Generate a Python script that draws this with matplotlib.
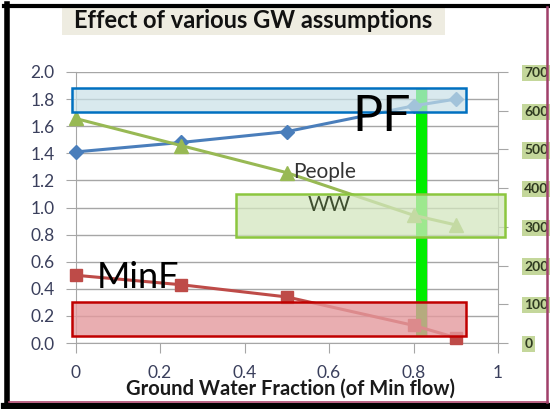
import matplotlib
matplotlib.use('Agg')
import matplotlib.pyplot as plt
from matplotlib.patches import Rectangle
from matplotlib.lines import Line2D

# Data
gw_fraction = [0, 0.25, 0.5, 0.8, 0.9]
pf_values = [1.41, 1.48, 1.56, 1.75, 1.80]
minf_values = [0.50, 0.43, 0.34, 0.13, 0.04]
people_values = [580, 510, 440, 330, 305]

left_ticks = [0.0, 0.2, 0.4, 0.6, 0.8, 1.0, 1.2, 1.4, 1.6, 1.8, 2.0]
right_ticks = [0, 100, 200, 300, 400, 500, 600, 700]
x_ticks = [0, 0.2, 0.4, 0.6, 0.8, 1]
x_tick_labels = ['0', '0.2', '0.4', '0.6', '0.8', '1']

plt.rcParams['font.family'] = ['Lato', 'DejaVu Sans']

W, H = 550, 409
fig = plt.figure(figsize=(5.5, 4.09), dpi=100)
fig.patch.set_facecolor('white')

ax = fig.add_axes([75.5 / W, 1 - 343 / H, 422.5 / W, 271 / H])
ax2 = ax.twinx()

tick_col = '#3a3f5c'
grid_col = '#a6a6a6'

# Left axis
ax.set_xlim(0, 1)
ax.set_ylim(0, 2)
ax.set_yticks(left_ticks)
ax.set_yticklabels(['%.1f' % v for v in left_ticks], fontsize=12.5, color=tick_col)
ax.set_xticks(x_ticks)
ax.set_xticklabels(x_tick_labels, fontsize=12.5, color=tick_col)
ax.yaxis.grid(True, color=grid_col, lw=1)
ax.set_axisbelow(True)
for s in ['top', 'right']:
    ax.spines[s].set_visible(False)
for s in ['left', 'bottom']:
    ax.spines[s].set_color(grid_col)
ax.tick_params(axis='y', length=7, color=grid_col, pad=8)
ax.tick_params(axis='x', length=7, color=grid_col, pad=9)

# Right axis
ax2.set_ylim(0, 700)
ax2.set_yticks(right_ticks)
ax2.set_yticklabels([str(v) for v in right_ticks], fontsize=10, color='#2f3a20',
                    fontweight='bold')
for lbl in ax2.get_yticklabels():
    lbl.set_bbox(dict(facecolor='#c4d79b', edgecolor='none', pad=1.5))
for s in ['top', 'left', 'bottom']:
    ax2.spines[s].set_visible(False)
ax2.spines['right'].set_color(grid_col)
ax2.tick_params(axis='y', length=7, color=grid_col, pad=12)

# Green vertical marker bar
ax.add_patch(Rectangle((0.822, 0.05), 0.012, 1.83, facecolor='#909090', edgecolor='none',
                       alpha=0.6, zorder=2))
ax.add_patch(Rectangle((0.807, 0.05), 0.024, 1.83, facecolor='#00ee00', edgecolor='none',
                       zorder=3))

# Series
ax.plot(gw_fraction, pf_values, color='#4a7ebb', lw=2.2, marker='D', markersize=7, zorder=4,
        clip_on=False)
ax.plot(gw_fraction, minf_values, color='#be4b48', lw=2.2, marker='s', markersize=9, zorder=4,
        clip_on=False)
ax2.plot(gw_fraction, people_values, color='#98b954', lw=2.2, marker='^', markersize=10,
         zorder=4, clip_on=False)

# Highlight boxes (drawn on top, semi-transparent)
ax2.add_patch(Rectangle((-0.008, 1.705 * 350), 0.933, 0.175 * 350, facecolor='#c9e1e8',
                        edgecolor='none', alpha=0.7, zorder=6, clip_on=False))
ax2.add_patch(Rectangle((-0.008, 1.705 * 350), 0.933, 0.175 * 350, facecolor='none',
                        edgecolor='#0070c0', lw=1.8, zorder=6, clip_on=False))
ax2.add_patch(Rectangle((0.38, 0.78 * 350), 0.637, 0.32 * 350, facecolor='#d3e6bf',
                        edgecolor='none', alpha=0.75, zorder=6, clip_on=False))
ax2.add_patch(Rectangle((0.38, 0.78 * 350), 0.637, 0.32 * 350, facecolor='none',
                        edgecolor='#8cc63f', lw=1.8, zorder=6, clip_on=False))
ax2.add_patch(Rectangle((-0.008, 0.05 * 350), 0.933, 0.25 * 350, facecolor='#e49a9e',
                        edgecolor='none', alpha=0.8, zorder=6, clip_on=False))
ax2.add_patch(Rectangle((-0.008, 0.05 * 350), 0.933, 0.25 * 350, facecolor='none',
                        edgecolor='#c00000', lw=1.8, zorder=6, clip_on=False))

# Labels inside the plot
ax2.text(0.655, 1.67 * 350, 'PF', fontsize=36, color='black', va='center', ha='left', zorder=7)
ax2.text(0.05, 0.48 * 350, 'MinF', fontsize=26, color='black', va='center', ha='left', zorder=7)
ax2.text(0.515, 1.26 * 350, 'People', fontsize=15, color='#333333', va='center', ha='left',
         zorder=7)
ax2.text(0.55, 1.02 * 350, 'WW', fontsize=15, color='#3f4f30', va='center', ha='left', zorder=7)

# Axis title (sits low, partly over the tick labels as in the original)
fig.text(290 / W, 1 - 389 / H, 'Ground Water Fraction (of Min flow)', fontsize=14.5,
         fontweight='bold', color='#1a1a1a', ha='center', va='center')

# Title with beige background
fig.patches.append(Rectangle((62 / W, 1 - 35 / H), 383 / W, 28 / H, transform=fig.transFigure,
                             facecolor='#eeece1', edgecolor='none'))
fig.text(253 / W, 1 - 21 / H, 'Effect of various GW assumptions', fontsize=17,
         fontweight='bold', color='#111111', ha='center', va='center')

# Frame lines around the picture
fig.lines.append(Line2D([4 / W, 550 / W], [1 - 5.5 / H, 1 - 5.5 / H], transform=fig.transFigure,
                        color='black', lw=3))
fig.lines.append(Line2D([6.5 / W, 6.5 / W], [1 - 4 / H, 0], transform=fig.transFigure,
                        color='black', lw=4))
fig.lines.append(Line2D([4 / W, 550 / W], [3 / H, 3 / H], transform=fig.transFigure,
                        color='black', lw=4.5))
fig.lines.append(Line2D([9 / W, 548 / W], [7 / H, 7 / H], transform=fig.transFigure,
                        color='#b04870', lw=1.2))
fig.lines.append(Line2D([547 / W, 547 / W], [7 / H, 1 - 7 / H], transform=fig.transFigure,
                        color='#a0406a', lw=1.8))

fig.savefig('out.png', dpi=100)
